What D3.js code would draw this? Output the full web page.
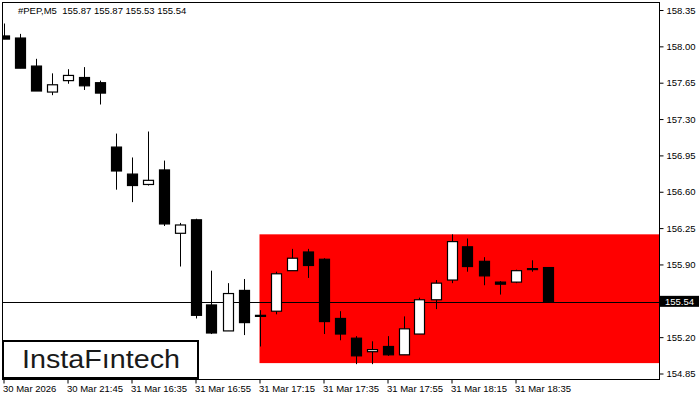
<!DOCTYPE html>
<html>
<head>
<meta charset="utf-8">
<script src="https://cdn.jsdelivr.net/npm/d3@7"></script>
<style>
  body { margin: 0; background: #fff; }
  svg { display: block; }
  text { font-family: "Liberation Sans", Arial, sans-serif; }
</style>
</head>
<body>
<svg id="chart" width="700" height="400"></svg>
<script>
// candle data, one entry per 5 minute bar
const opens  = [158.10, 158.08, 157.81, 157.56, 157.67, 157.70, 157.65, 157.03, 156.77, 156.67,
                156.81, 156.20, 156.33, 155.51, 155.26, 155.65, 155.41, 155.45, 155.84, 156.02,
                155.95, 155.38, 155.19, 155.06, 155.11, 155.03, 155.23, 155.56, 155.75, 156.07,
                155.93, 155.73, 155.73, 155.86, 155.87];
const highs  = [158.22, 158.12, 157.88, 157.74, 157.78, 157.80, 157.67, 157.16, 156.93, 157.18,
                156.90, 156.30, 156.34, 155.84, 155.72, 155.76, 155.46, 155.83, 156.05, 156.05,
                155.96, 155.45, 155.21, 155.16, 155.21, 155.40, 155.58, 155.75, 156.19, 156.15,
                155.97, 155.74, 155.85, 155.94, 155.87];
const lows   = [158.07, 157.79, 157.57, 157.53, 157.64, 157.58, 157.44, 156.62, 156.50, 156.66,
                156.27, 155.88, 155.38, 155.23, 155.26, 155.22, 155.11, 155.42, 155.84, 155.77,
                155.23, 155.17, 154.94, 154.94, 155.02, 155.03, 155.23, 155.47, 155.72, 155.83,
                155.70, 155.61, 155.72, 155.83, 155.53];
const closes = [158.07, 157.79, 157.57, 157.63, 157.72, 157.62, 157.55, 156.80, 156.66, 156.71,
                156.29, 156.28, 155.41, 155.24, 155.62, 155.34, 155.40, 155.81, 155.96, 155.89,
                155.35, 155.23, 155.02, 155.08, 155.03, 155.28, 155.56, 155.72, 156.12, 155.88,
                155.79, 155.71, 155.84, 155.86, 155.54];

// x axis labels (every 4th bar)
const timeTickIdx = [0, 4, 8, 12, 16, 20, 24, 28, 32];
const timeLabels = ['30 Mar 2026', '30 Mar 21:45', '31 Mar 16:35', '31 Mar 16:55', '31 Mar 17:15',
                    '31 Mar 17:35', '31 Mar 17:55', '31 Mar 18:15', '31 Mar 18:35'];

// price axis
const priceTicks = [158.35, 158.00, 157.65, 157.30, 156.95, 156.60, 156.25, 155.90, 155.20, 154.85];
const lastPrice = 155.54;

// highlighted zone
const zoneStartIdx = 16;
const zoneTop = 156.19;
const zoneBottom = 154.95;

const symbol = '#PEP,M5';

const width = 700, height = 400;
const plot = { left: 2, top: 2, right: 659, bottom: 379 };

const svg = d3.select('#chart');

const x = d3.scaleLinear().domain([0, opens.length - 1]).range([3.5, 547.5]);
const y = d3.scaleLinear().domain([154.85, 158.35]).range([373.5, 10]);

const bars = opens.map((o, i) => ({ i, o, h: highs[i], l: lows[i], c: closes[i] }));

svg.append('clipPath').attr('id', 'plotClip')
  .append('rect')
    .attr('x', plot.left).attr('y', plot.top)
    .attr('width', plot.right - plot.left).attr('height', plot.bottom - plot.top);

const g = svg.append('g').attr('clip-path', 'url(#plotClip)');

// red zone
g.append('rect')
  .attr('x', x(zoneStartIdx))
  .attr('y', y(zoneTop))
  .attr('width', plot.right - x(zoneStartIdx))
  .attr('height', y(zoneBottom) - y(zoneTop))
  .attr('fill', '#ff0000');

// last price line
g.append('line')
  .attr('x1', plot.left).attr('x2', plot.right)
  .attr('y1', Math.round(y(lastPrice)) + 0.5).attr('y2', Math.round(y(lastPrice)) + 0.5)
  .attr('stroke', '#000').attr('stroke-width', 1);

// candles
const candle = g.append('g').selectAll('g.candle')
  .data(bars)
  .enter().append('g')
    .attr('class', 'candle');

candle.append('line')
  .attr('x1', d => Math.round(x(d.i)) + 0.5)
  .attr('x2', d => Math.round(x(d.i)) + 0.5)
  .attr('y1', d => y(d.h))
  .attr('y2', d => y(d.l))
  .attr('stroke', '#000')
  .attr('stroke-width', 1);

candle.append('rect')
  .attr('x', d => Math.round(x(d.i)) - 4.5)
  .attr('y', d => y(Math.max(d.o, d.c)))
  .attr('width', 10)
  .attr('height', d => Math.max(1, Math.abs(y(d.o) - y(d.c))))
  .attr('fill', d => d.c > d.o ? '#fff' : '#000')
  .attr('stroke', '#000')
  .attr('stroke-width', 1.2);

// frame
svg.append('rect')
  .attr('x', plot.left + 0.5).attr('y', plot.top + 0.5)
  .attr('width', plot.right - plot.left).attr('height', plot.bottom - plot.top)
  .attr('fill', 'none').attr('stroke', '#000').attr('stroke-width', 1);

// price axis
const yAxis = d3.axisRight(y)
  .tickValues(priceTicks)
  .tickSize(4)
  .tickPadding(3)
  .tickFormat(d3.format('.2f'));

svg.append('g')
  .attr('transform', `translate(${plot.right + 0.5},0)`)
  .call(yAxis)
  .call(ax => ax.select('.domain').remove())
  .call(ax => ax.selectAll('text')
      .attr('font-size', 9.5)
      .attr('font-family', '"Liberation Sans", Arial, sans-serif')
      .attr('fill', '#000'))
  .call(ax => ax.selectAll('line').attr('stroke', '#000'));

// last price marker
const lp = svg.append('g').attr('transform', `translate(${plot.right + 1},${y(lastPrice)})`);
lp.append('rect')
  .attr('x', 0).attr('y', -6).attr('width', 39).attr('height', 11)
  .attr('fill', '#000');
lp.append('text')
  .attr('x', 5).attr('y', 0).attr('dy', '0.32em')
  .attr('font-size', 9.5)
  .attr('fill', '#fff')
  .text(d3.format('.2f')(lastPrice));

// time axis
const xAxis = d3.axisBottom(x)
  .tickValues(timeTickIdx)
  .tickSize(4)
  .tickPadding(2)
  .tickFormat((d, i) => timeLabels[i]);

svg.append('g')
  .attr('transform', `translate(0,${plot.bottom + 0.5})`)
  .call(xAxis)
  .call(ax => ax.select('.domain').remove())
  .call(ax => ax.selectAll('text')
      .attr('text-anchor', 'start')
      .attr('x', -1)
      .attr('font-size', 9.5)
      .attr('font-family', '"Liberation Sans", Arial, sans-serif')
      .attr('fill', '#000'))
  .call(ax => ax.selectAll('line').attr('stroke', '#000'));

// header
svg.append('text')
  .attr('x', 18).attr('y', 14)
  .attr('font-size', 9.5)
  .attr('fill', '#000')
  .attr('xml:space', 'preserve')
  .text(`${symbol}  ${d3.format('.2f')(opens[opens.length - 1])} ${d3.format('.2f')(highs[highs.length - 1])} ${d3.format('.2f')(lows[lows.length - 1])} ${d3.format('.2f')(closes[closes.length - 1])}`);

// logo
const logo = svg.append('g');
logo.append('rect')
  .attr('x', 3).attr('y', 341)
  .attr('width', 195).attr('height', 37)
  .attr('fill', '#fff').attr('stroke', '#000').attr('stroke-width', 2);
logo.append('text')
  .attr('x', 22).attr('y', 368)
  .attr('font-family', 'Inter, "Noto Sans", sans-serif')
  .attr('font-size', 25)
  .attr('fill', '#1a1a1a')
  .attr('textLength', 158)
  .attr('lengthAdjust', 'spacingAndGlyphs')
  .text('InstaFıntech');
</script>
</body>
</html>
